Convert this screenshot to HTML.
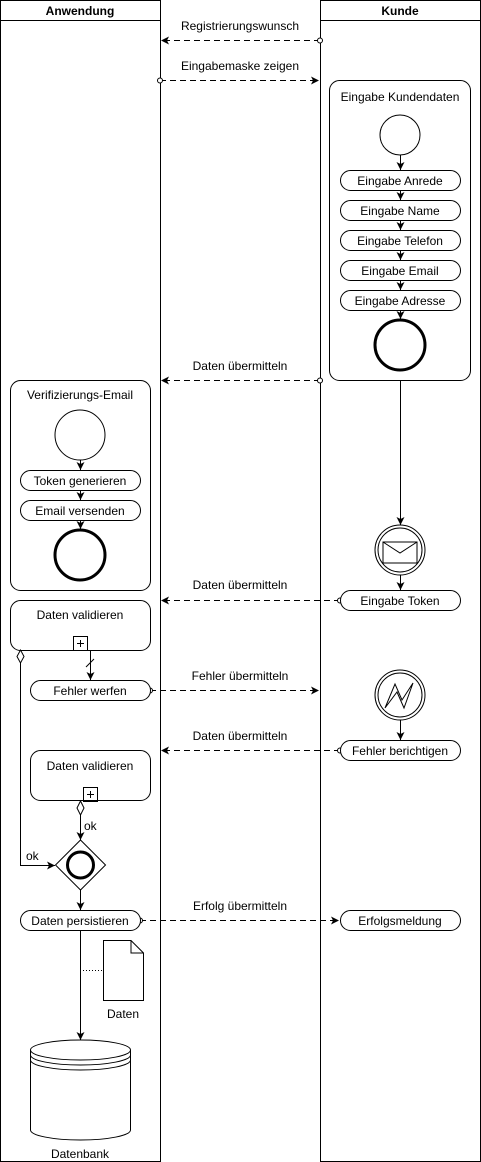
<!DOCTYPE html>
<html><head><meta charset="utf-8"><style>body{margin:0;background:#fff}svg{display:block}text{font-family:"Liberation Sans",sans-serif;font-size:12px;fill:#000}</style></head><body>
<svg width="481" height="1162" viewBox="0 0 481 1162" xmlns="http://www.w3.org/2000/svg">
<defs>
<marker id="a" markerWidth="10" markerHeight="10" refX="9" refY="5" orient="auto" markerUnits="userSpaceOnUse"><path d="M1,1 L9,5 L1,9 L3,5 Z" fill="#000"/></marker>
<marker id="o" markerWidth="8" markerHeight="8" refX="4" refY="4" markerUnits="userSpaceOnUse"><circle cx="4" cy="4" r="2.5" fill="#fff" stroke="#000"/></marker>
<marker id="d" markerWidth="12" markerHeight="20" refX="6" refY="1" orient="auto" markerUnits="userSpaceOnUse"></marker>
</defs>
<g fill="none" stroke="#000" stroke-width="1">
<rect x="0.5" y="0.5" width="160" height="1161"/>
<rect x="320.5" y="0.5" width="160" height="1161"/>
<line x1="0" y1="20.5" x2="161" y2="20.5"/>
<line x1="320" y1="20.5" x2="481" y2="20.5"/>
<g stroke-dasharray="6,4" marker-end="url(#a)" marker-start="url(#o)">
<line x1="320" y1="40.5" x2="161" y2="40.5"/>
<line x1="160" y1="80.5" x2="319" y2="80.5"/>
<line x1="320" y1="380.5" x2="161" y2="380.5"/>
<line x1="340" y1="600.5" x2="161" y2="600.5"/>
<line x1="150" y1="690.5" x2="319" y2="690.5"/>
<line x1="340" y1="750.5" x2="161" y2="750.5"/>
<line x1="140" y1="920.5" x2="339" y2="920.5"/>
</g>
<rect x="329.5" y="80.5" width="141" height="300" rx="10"/>
<circle cx="400" cy="135" r="20"/>
<g marker-end="url(#a)">
<line x1="400.5" y1="155" x2="400.5" y2="170"/>
<line x1="400.5" y1="190" x2="400.5" y2="200"/>
<line x1="400.5" y1="220" x2="400.5" y2="230"/>
<line x1="400.5" y1="250" x2="400.5" y2="260"/>
<line x1="400.5" y1="280" x2="400.5" y2="290"/>
<line x1="400.5" y1="310" x2="400.5" y2="319"/>
<line x1="400.5" y1="380" x2="400.5" y2="525"/>
<line x1="400.5" y1="575" x2="400.5" y2="590"/>
<line x1="400.5" y1="720" x2="400.5" y2="740"/>
<line x1="80.5" y1="460" x2="80.5" y2="470"/>
<line x1="80.5" y1="490" x2="80.5" y2="500"/>
<line x1="80.5" y1="520" x2="80.5" y2="529"/>
<line x1="90.5" y1="650" x2="90.5" y2="680"/>
<line x1="80.5" y1="815" x2="80.5" y2="840"/>
<path d="M20.5,663 V865.5 H55"/>
<line x1="80.5" y1="890" x2="80.5" y2="910"/>
<line x1="80.5" y1="930" x2="80.5" y2="1040"/>
</g>
<line x1="86" y1="667" x2="94" y2="659"/>
<path d="M20.5,650 L24,656.5 L20.5,663 L17,656.5 Z" fill="#fff"/>
<path d="M80.5,801 L84,808 L80.5,815 L77,808 Z" fill="#fff"/>
<g fill="#fff">
<rect x="340.5" y="170.5" width="120" height="20" rx="10"/>
<rect x="340.5" y="200.5" width="120" height="20" rx="10"/>
<rect x="340.5" y="230.5" width="120" height="20" rx="10"/>
<rect x="340.5" y="260.5" width="120" height="20" rx="10"/>
<rect x="340.5" y="290.5" width="120" height="20" rx="10"/>
<rect x="340.5" y="590.5" width="120" height="20" rx="10"/>
<rect x="340.5" y="740.5" width="120" height="20" rx="10"/>
<rect x="340.5" y="910.5" width="120" height="20" rx="10"/>
<rect x="20.5" y="470.5" width="120" height="20" rx="10"/>
<rect x="20.5" y="500.5" width="120" height="20" rx="10"/>
<rect x="30.5" y="680.5" width="120" height="20" rx="10"/>
<rect x="20.5" y="910.5" width="120" height="20" rx="10"/>
</g>
<circle cx="400" cy="345" r="25" stroke-width="3"/>
<rect x="10.5" y="380.5" width="140" height="210" rx="10"/>
<circle cx="80" cy="435" r="25"/>
<circle cx="80" cy="555" r="25" stroke-width="3"/>
<circle cx="400" cy="550" r="25"/><circle cx="400" cy="550" r="22"/>
<rect x="383" y="542" width="34" height="21"/><path d="M383,542 L400,553 L417,542"/>
<circle cx="400" cy="695" r="25"/><circle cx="400" cy="695" r="22"/>
<path d="M385,708 L395,684 L402,700 L413,683 L404,708 L397,692 Z"/>
<rect x="10.5" y="600.5" width="140" height="50" rx="10"/>
<rect x="73.5" y="636.5" width="14" height="14"/><path d="M77,643.5 H84 M80.5,640 V647"/>
<rect x="30.5" y="750.5" width="120" height="50" rx="10"/>
<rect x="83.5" y="787.5" width="14" height="14"/><path d="M87,794.5 H94 M90.5,791 V798"/>
<path d="M80.5,840 L105.5,865 L80.5,890 L55.5,865 Z" fill="#fff"/>
<circle cx="80.5" cy="865" r="13" stroke-width="3"/>
<line x1="80" y1="970.5" x2="103" y2="970.5" stroke-dasharray="1,2"/>
<path d="M103.5,940.5 H131 L143.5,953 V1000.5 H103.5 Z M131,940.5 V953 H143.5"/>
<path d="M30.5,1050 V1130 A50,10 0 0 0 130.5,1130 V1050 A50,10 0 0 0 30.5,1050 Z"/>
<path d="M30.5,1050 A50,10 0 0 0 130.5,1050 M30.5,1055 A50,10 0 0 0 130.5,1055 M30.5,1060 A50,10 0 0 0 130.5,1060"/>
</g>
<g text-anchor="middle">
<text x="80" y="15" font-weight="bold">Anwendung</text>
<text x="400" y="15" font-weight="bold">Kunde</text>
<text x="240" y="30">Registrierungswunsch</text>
<text x="240" y="70">Eingabemaske zeigen</text>
<text x="400" y="101">Eingabe Kundendaten</text>
<text x="400" y="185">Eingabe Anrede</text>
<text x="400" y="215">Eingabe Name</text>
<text x="400" y="245">Eingabe Telefon</text>
<text x="400" y="275">Eingabe Email</text>
<text x="400" y="305">Eingabe Adresse</text>
<text x="240" y="370">Daten übermitteln</text>
<text x="80" y="399">Verifizierungs-Email</text>
<text x="80" y="485">Token generieren</text>
<text x="80" y="515">Email versenden</text>
<text x="240" y="589">Daten übermitteln</text>
<text x="400" y="605">Eingabe Token</text>
<text x="80" y="619">Daten validieren</text>
<text x="90" y="695">Fehler werfen</text>
<text x="240" y="680">Fehler übermitteln</text>
<text x="240" y="740">Daten übermitteln</text>
<text x="400" y="755">Fehler berichtigen</text>
<text x="90" y="770">Daten validieren</text>
<text x="240" y="910">Erfolg übermitteln</text>
<text x="80" y="925">Daten persistieren</text>
<text x="400" y="925">Erfolgsmeldung</text>
<text x="123" y="1018">Daten</text>
<text x="80" y="1158">Datenbank</text>
</g>
<text x="84" y="830">ok</text>
<text x="26" y="860">ok</text>
</svg>
</body></html>
